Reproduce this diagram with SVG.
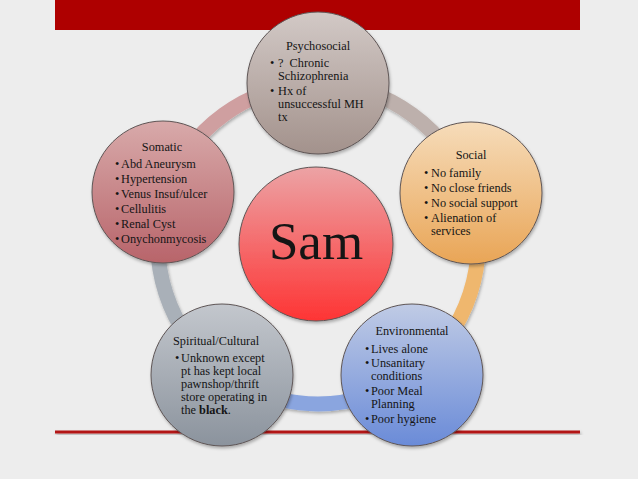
<svg xmlns="http://www.w3.org/2000/svg" width="638" height="479" viewBox="0 0 638 479">
<defs>
<style>
text{font-family:"Liberation Serif","Times New Roman",serif;font-size:12.3px;fill:#151515}
.h{text-anchor:middle}
.sam{font-size:53px;text-anchor:middle}
.node{stroke:#5e5555;stroke-width:1}
.arc{fill:none;stroke-width:15}
</style>
<linearGradient id="gPsy" x1="0" y1="0" x2="0" y2="1"><stop offset="0" stop-color="#d2c9c6"/><stop offset="1" stop-color="#a3928c"/></linearGradient>
<linearGradient id="gSoc" x1="0" y1="0" x2="0" y2="1"><stop offset="0" stop-color="#f6dcba"/><stop offset="1" stop-color="#e9a556"/></linearGradient>
<linearGradient id="gSom" x1="0" y1="0" x2="0" y2="1"><stop offset="0" stop-color="#d8aaaa"/><stop offset="1" stop-color="#b8646a"/></linearGradient>
<linearGradient id="gSpi" x1="0" y1="0" x2="0" y2="1"><stop offset="0" stop-color="#c3c7cd"/><stop offset="1" stop-color="#8b939d"/></linearGradient>
<linearGradient id="gEnv" x1="0" y1="0" x2="0" y2="1"><stop offset="0" stop-color="#c0cbe5"/><stop offset="1" stop-color="#6a8bd8"/></linearGradient>
<linearGradient id="gSam" x1="0" y1="0" x2="0" y2="1"><stop offset="0" stop-color="#eca3a5"/><stop offset="1" stop-color="#fe3434"/></linearGradient>
<filter id="sh" x="-20%" y="-20%" width="140%" height="140%"><feDropShadow dx="1" dy="2" stdDeviation="1.8" flood-color="#000" flood-opacity="0.28"/></filter>
</defs>
<rect width="638" height="479" fill="#ededed"/>
<rect x="55" y="0" width="525" height="30" fill="#ae0000"/>
<rect x="55" y="430.5" width="525" height="3" fill="#b31212" filter="url(#sh)"/>
<g id="connectors" filter="url(#sh)">
<path class="arc" stroke="#bdb0ac" d="M318 84 A160 160 0 0 1 470.2 194.6"/>
<path class="arc" stroke="#efb76e" d="M470.2 194.6 A160 160 0 0 1 412 373.4"/>
<path class="arc" stroke="#8aa5df" d="M412 373.4 A160 160 0 0 1 224 373.4"/>
<path class="arc" stroke="#a9b0b8" d="M224 373.4 A160 160 0 0 1 165.8 194.6"/>
<path class="arc" stroke="#cf9fa0" d="M165.8 194.6 A160 160 0 0 1 318 84"/>
</g>
<g id="sam">
<circle class="node" cx="316" cy="244" r="77" fill="url(#gSam)" filter="url(#sh)"/>
<text class="sam" x="316" y="259">Sam</text>
</g>
<g id="psychosocial">
<circle class="node" cx="318" cy="83" r="71" fill="url(#gPsy)" filter="url(#sh)"/>
<text class="h" x="318" y="50">Psychosocial</text>
<text x="270" y="67">•</text><text x="278" y="67">?&#160; Chronic</text>
<text x="278" y="80">Schizophrenia</text>
<text x="270" y="94.5">•</text><text x="278" y="94.5">Hx of</text>
<text x="278" y="107.5">unsuccessful MH</text>
<text x="278" y="120.5">tx</text>
</g>
<g id="social">
<circle class="node" cx="471" cy="193" r="71" fill="url(#gSoc)" filter="url(#sh)"/>
<text class="h" x="471" y="159">Social</text>
<text x="424" y="177">•</text><text x="431" y="177">No family</text>
<text x="424" y="192">•</text><text x="431" y="192">No close friends</text>
<text x="424" y="207">•</text><text x="431" y="207">No social support</text>
<text x="424" y="222">•</text><text x="431" y="222">Alienation of</text>
<text x="431" y="235">services</text>
</g>
<g id="somatic">
<circle class="node" cx="163" cy="192" r="71" fill="url(#gSom)" filter="url(#sh)"/>
<text class="h" x="162" y="151">Somatic</text>
<text x="115" y="168">•</text><text x="121" y="168">Abd Aneurysm</text>
<text x="115" y="183">•</text><text x="121" y="183">Hypertension</text>
<text x="115" y="198">•</text><text x="121" y="198">Venus Insuf/ulcer</text>
<text x="115" y="213">•</text><text x="121" y="213">Cellulitis</text>
<text x="115" y="228">•</text><text x="121" y="228">Renal Cyst</text>
<text x="115" y="243">•</text><text x="121" y="243">Onychonmycosis</text>
</g>
<g id="spiritual">
<circle class="node" cx="222" cy="375" r="71" fill="url(#gSpi)" filter="url(#sh)"/>
<text x="173" y="345">Spiritual/Cultural</text>
<text x="175" y="362">•</text><text x="181" y="362">Unknown except</text>
<text x="181" y="375">pt has kept local</text>
<text x="181" y="388">pawnshop/thrift</text>
<text x="181" y="401">store operating in</text>
<text x="181" y="414">the <tspan font-weight="bold">black</tspan>.</text>
</g>
<g id="environmental">
<circle class="node" cx="412" cy="375" r="71" fill="url(#gEnv)" filter="url(#sh)"/>
<text class="h" x="412" y="335">Environmental</text>
<text x="365" y="353">•</text><text x="371" y="353">Lives alone</text>
<text x="365" y="367">•</text><text x="371" y="367">Unsanitary</text>
<text x="371" y="380">conditions</text>
<text x="365" y="395">•</text><text x="371" y="395">Poor Meal</text>
<text x="371" y="408">Planning</text>
<text x="365" y="423">•</text><text x="371" y="423">Poor hygiene</text>
</g>
</svg>
